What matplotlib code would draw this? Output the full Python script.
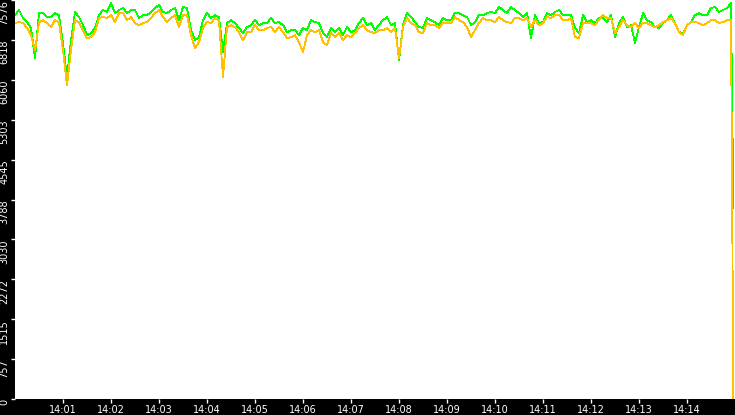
import numpy as np
import matplotlib
matplotlib.use('Agg')
import matplotlib.pyplot as plt
import matplotlib.dates as mdates

# samples every 5 s starting 14:00:00, last point at 14:14:58
green = [7290, 7386, 7233, 7157, 7043, 6472, 7328, 7328, 7252, 7252, 7328, 7290, 6757, 6110, 6814,
         7348, 7252, 7100, 6910, 6948, 7043, 7290, 7386, 7348, 7519, 7328, 7386, 7424, 7328, 7386,
         7386, 7233, 7290, 7290, 7348, 7424, 7481, 7348, 7328, 7386, 7424, 7195, 7443, 7424, 7005,
         6814, 6871, 7195, 7328, 7233, 7290, 7252, 6586, 7138, 7195, 7138, 7043, 6948, 7062, 7100,
         7195, 7100, 7138, 7138, 7233, 7138, 7157, 7100, 6967, 7005, 7005, 6910, 7043, 7005, 7195,
         7157, 7138, 6948, 6871, 7043, 6967, 7043, 6910, 7062, 6967, 7005, 7138, 7233, 7100, 7138,
         7005, 7100, 7195, 7252, 7100, 7138, 6434, 7100, 7328, 7252, 7157, 7062, 7043, 7233, 7195,
         7157, 7100, 7233, 7195, 7195, 7328, 7328, 7290, 7252, 7100, 7157, 7290, 7290, 7328, 7348,
         7328, 7443, 7386, 7328, 7443, 7386, 7328, 7252, 7328, 6852, 7290, 7138, 7157, 7328, 7290,
         7348, 7386, 7290, 7290, 7290, 7043, 6948, 7290, 7157, 7195, 7138, 7233, 7233, 7157, 7290,
         6871, 7138, 7252, 7062, 7100, 6760, 7062, 7328, 7195, 7157, 7062, 7043, 7138, 7195, 7290,
         7138, 6967, 6948, 7100, 7157, 7290, 7328, 7290, 7290, 7424, 7443, 7348, 7386, 7424, 7519,
         3620]
orange = [7138, 7157, 7138, 7043, 6910, 6624, 7157, 7195, 7138, 7062, 7195, 7157, 6624, 5958, 6624,
          7195, 7157, 7005, 6852, 6871, 6967, 7233, 7252, 7233, 7290, 7157, 7328, 7328, 7195, 7252,
          7138, 7100, 7138, 7157, 7233, 7328, 7386, 7252, 7157, 7233, 7290, 7062, 7290, 7290, 6910,
          6662, 6776, 7043, 7157, 7138, 7233, 7195, 6110, 7062, 7100, 7062, 6967, 6814, 6967, 6967,
          7100, 7005, 7005, 7043, 7062, 6967, 7062, 6967, 6852, 6871, 6910, 6776, 6586, 6910, 7005,
          6967, 7005, 6776, 6719, 6948, 6871, 6948, 6814, 6910, 6871, 6948, 7043, 7100, 7005, 6967,
          6948, 7005, 7005, 7043, 6967, 7043, 6472, 7062, 7233, 7138, 7100, 6967, 6948, 7138, 7100,
          7100, 7043, 7138, 7138, 7138, 7252, 7195, 7157, 7062, 6871, 7005, 7138, 7233, 7195, 7195,
          7157, 7252, 7195, 7157, 7138, 7233, 7233, 7195, 7233, 7062, 7195, 7100, 7138, 7252, 7233,
          7290, 7290, 7195, 7195, 7233, 6871, 6852, 7138, 7138, 7138, 7100, 7195, 7290, 7233, 7233,
          6948, 7062, 7195, 7100, 7062, 7138, 7043, 7138, 7138, 7100, 7062, 7100, 7157, 7195, 7233,
          7138, 6967, 6910, 7100, 7157, 7157, 7138, 7100, 7138, 7195, 7195, 7138, 7157, 7195, 7195,
          0]

ytick_vals = [0, 757.6, 1515.2, 2272.8, 3030.4, 3788, 4545.6, 5303.2, 6060.8, 6818.4, 7576]
ytick_labels = ['0', '757', '1515', '2272', '3030', '3788', '4545', '5303', '6060', '6818', '7576']

start = np.datetime64('2024-01-01T14:00:00')
secs = np.append(np.arange(0, 900, 5), 898)
times = start + secs.astype('timedelta64[s]')

fig = plt.figure(figsize=(7.35, 4.15), dpi=100, facecolor='black')
ax = fig.add_axes([15 / 735, 16 / 415, 720 / 735, 399 / 415])
ax.set_facecolor('white')

ax.plot(times, green, color='#00ff00', lw=0.6, antialiased=False)
ax.plot(times, orange, color='#ffc000', lw=0.6, antialiased=False)

ax.set_xlim(start, start + np.timedelta64(15, 'm'))
ax.set_ylim(0, 7576)

ax.xaxis.set_major_locator(mdates.MinuteLocator(byminute=range(1, 15)))
ax.xaxis.set_major_formatter(mdates.DateFormatter('%H:%M'))
ax.set_yticks(ytick_vals)
ax.set_yticklabels(ytick_labels, rotation=90, va='top')

ax.tick_params(colors='white', labelsize=7, length=3, width=1, pad=1)
for lbl in ax.get_yticklabels():
    lbl.set_verticalalignment('top')

for s in ax.spines.values():
    s.set_visible(False)

fig.savefig('out.png', dpi=100, facecolor='black')
